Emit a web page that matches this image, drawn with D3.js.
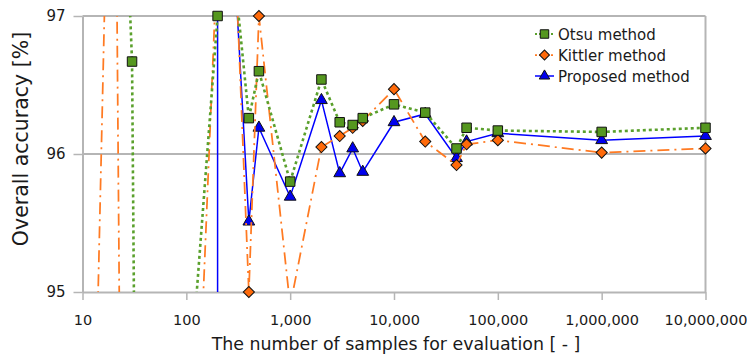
<!DOCTYPE html>
<html>
<head>
<meta charset="utf-8">
<script src="https://cdn.jsdelivr.net/npm/d3@7"></script>
<style>
body { margin: 0; background: #fff; }
text { font-family: "DejaVu Sans", sans-serif; fill: #1a1a1a; }
</style>
</head>
<body>
<div class="chart"></div>
<script>
var width = 747, height = 356;

// sample sizes shared by Otsu and Kittler
var samples = [10, 20, 30, 40, 100, 200, 300, 400, 500, 1000, 2000, 3000, 4000, 5000,
               10000, 20000, 40000, 50000, 100000, 1000000, 10000000];
var otsu = [100, 100, 96.67, 85, 94, 97.0, 97.2, 96.26, 96.6, 95.8, 96.54, 96.23, 96.21, 96.26,
            96.36, 96.3, 96.04, 96.19, 96.17, 96.16, 96.19];
var kittler = [90, 100, 83.33, 87.5, 92, 97.5, 97.33, 95.0, 97.0, 94.9, 96.05, 96.13, 96.19, 96.24,
               96.47, 96.09, 95.92, 96.07, 96.1, 96.01, 96.04];
// proposed method (two rows at 200)
var propSamples = [200, 200, 300, 400, 500, 1000, 2000, 3000, 4000, 5000,
                   10000, 20000, 40000, 50000, 100000, 1000000, 10000000];
var proposed = [90, 97.5, 97.2, 95.51, 96.19, 95.69, 96.39, 95.86, 96.04, 95.87,
                96.23, 96.29, 95.97, 96.09, 96.15, 96.1, 96.13];

var xTicks = [10, 100, 1000, 10000, 100000, 1000000, 10000000];
var yTicks = [95, 96, 97];
var seriesNames = ["Otsu method", "Kittler method", "Proposed method"];

var plotL = 82.5, plotR = 705.5, plotT = 16, plotB = 292;

var x = d3.scaleLog().domain([10, 10000000]).range([plotL, plotR]);
var y = d3.scaleLinear().domain([95, 97]).range([plotB, plotT]);

var svg = d3.select(".chart").append("svg")
  .attr("width", width)
  .attr("height", height);

svg.append("rect").attr("width", width).attr("height", height).attr("fill", "#fff");

svg.append("defs").append("clipPath").attr("id", "plot")
  .append("rect")
  .attr("x", plotL).attr("y", plotT)
  .attr("width", plotR - plotL).attr("height", plotB - plotT);

// grid lines
svg.selectAll(".grid").data(yTicks.slice(1)).enter().append("line")
  .attr("x1", plotL).attr("x2", plotR)
  .attr("y1", function(d) { return y(d); })
  .attr("y2", function(d) { return y(d); })
  .attr("stroke", "#b5b5b5").attr("stroke-width", 2);

svg.append("line")
  .attr("x1", plotR).attr("x2", plotR).attr("y1", plotT).attr("y2", plotB)
  .attr("stroke", "#b5b5b5").attr("stroke-width", 2);

var yAxis = svg.append("g")
  .attr("transform", "translate(" + plotL + ",0)")
  .call(d3.axisLeft(y).tickValues(yTicks).tickFormat(d3.format("d"))
        .tickSize(9).tickSizeOuter(0).tickPadding(8));

var xAxis = svg.append("g")
  .attr("transform", "translate(0," + plotB + ")")
  .call(d3.axisBottom(x).tickValues(xTicks).tickFormat(d3.format(","))
        .tickSize(8).tickSizeOuter(0).tickPadding(15));

svg.selectAll(".domain").attr("stroke", "#b5b5b5").attr("stroke-width", 2);
svg.selectAll(".tick line").attr("stroke", "#b5b5b5").attr("stroke-width", 1.5);
yAxis.selectAll("text").style("font-size", "15px").attr("fill", "#1a1a1a");
xAxis.selectAll("text").style("font-size", "14.5px").attr("fill", "#1a1a1a");

svg.append("text")
  .attr("x", 396).attr("y", 350)
  .attr("text-anchor", "middle")
  .style("font-size", "17.4px")
  .text("The number of samples for evaluation [ - ]");

svg.append("text")
  .attr("transform", "translate(28,139) rotate(-90)")
  .attr("text-anchor", "middle")
  .style("font-size", "20.5px")
  .text("Overall accuracy [%]");

var series = [
  { name: seriesNames[2], xs: propSamples, ys: proposed, line: "#0000ff", fill: "#0000ee",
    width: 1.5, dash: null, shape: d3.symbolTriangle, size: 60, rot: 0 },
  { name: seriesNames[1], xs: samples, ys: kittler, line: "#ff7a22", fill: "#ff6a0a",
    width: 1.75, dash: "12,5,2,5", shape: d3.symbolSquare, size: 62, rot: 45 },
  { name: seriesNames[0], xs: samples, ys: otsu, line: "#5aa02c", fill: "#55971f",
    width: 2.6, dash: "3,3", shape: d3.symbolSquare, size: 90, rot: 0 }
];

var lineGen = d3.line()
  .x(function(d) { return x(d[0]); })
  .y(function(d) { return y(d[1]); });

series.forEach(function(s) {
  var pts = s.xs.map(function(v, i) { return [v, s.ys[i]]; });
  svg.append("path")
    .datum(pts)
    .attr("clip-path", "url(#plot)")
    .attr("d", lineGen)
    .attr("fill", "none")
    .attr("stroke", s.line)
    .attr("stroke-width", s.width)
    .attr("stroke-dasharray", s.dash);

  var inside = pts.filter(function(d) { return d[1] >= 94.99 && d[1] <= 97.01; });
  svg.selectAll(null).data(inside).enter().append("path")
    .attr("d", d3.symbol().type(s.shape).size(s.size))
    .attr("transform", function(d) {
      return "translate(" + x(d[0]) + "," + y(d[1]) + ") rotate(" + s.rot + ")";
    })
    .attr("fill", s.fill)
    .attr("stroke", "#111")
    .attr("stroke-width", 1);
});

// legend
var legendRows = [series[2], series[1], series[0]];
var legend = svg.selectAll(".legend").data(legendRows).enter().append("g")
  .attr("transform", function(d, i) { return "translate(535," + (34 + i * 21) + ")"; });

legend.append("line")
  .attr("x1", 0).attr("x2", 19).attr("y1", 0).attr("y2", 0)
  .attr("stroke", function(d) { return d.line; })
  .attr("stroke-width", function(d) { return Math.min(d.width, 2); })
  .attr("stroke-dasharray", function(d) { return d.dash ? "2,2" : null; });

legend.append("path")
  .attr("d", function(d) { return d3.symbol().type(d.shape).size(d.size * 0.8)(); })
  .attr("transform", function(d) { return "translate(9.5,0) rotate(" + d.rot + ")"; })
  .attr("fill", function(d) { return d.fill; })
  .attr("stroke", "#111")
  .attr("stroke-width", 1);

legend.append("text")
  .attr("x", 23).attr("y", 5.5)
  .style("font-size", "15px")
  .text(function(d) { return d.name; });
</script>
</body>
</html>
